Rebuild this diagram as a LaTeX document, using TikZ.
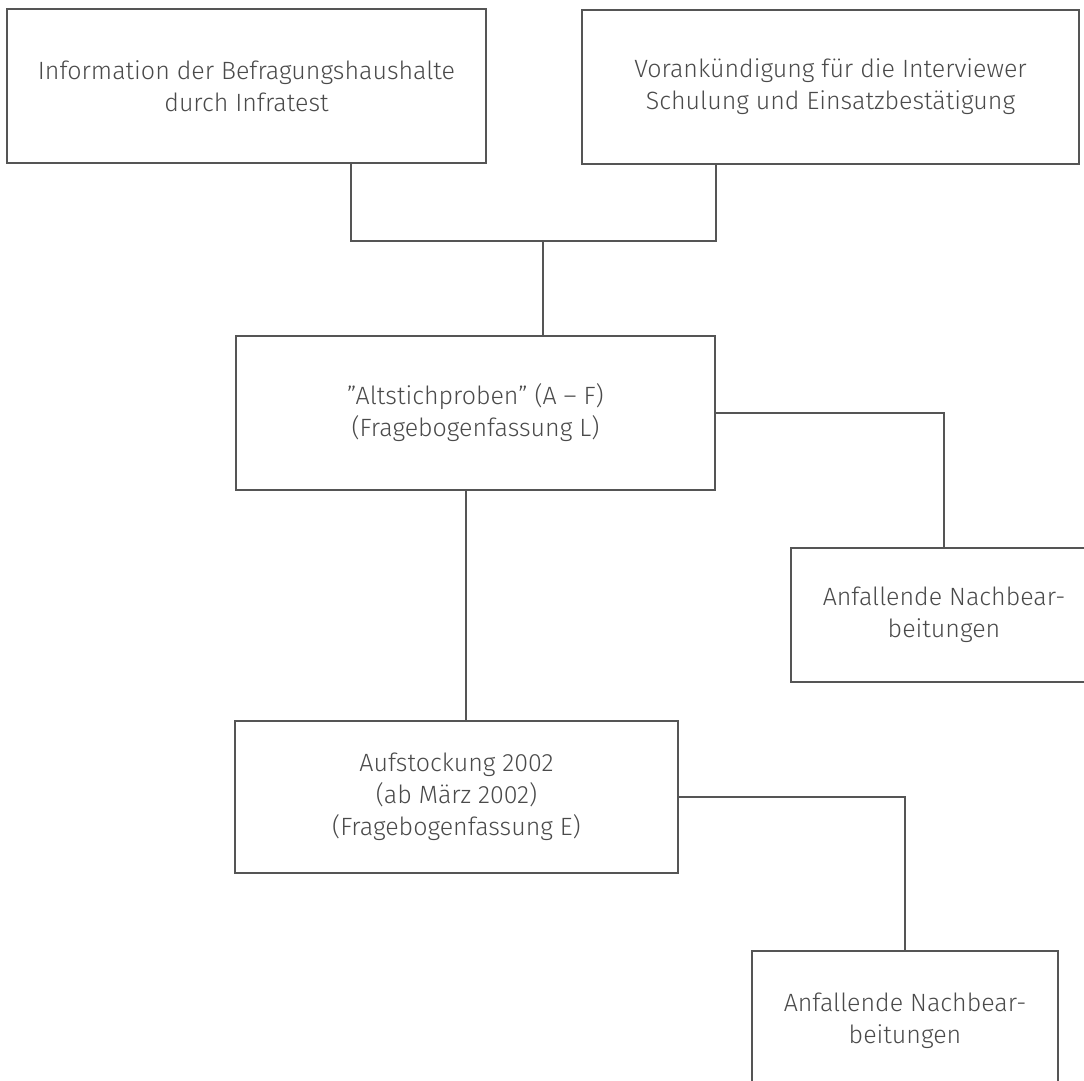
\documentclass[tikz,border=0pt]{standalone}
\usepackage{fontspec}
\setmainfont{Fira Sans Light}
\usepackage{tikz}

\definecolor{linegray}{HTML}{555555}
\definecolor{textgray}{HTML}{4A4A4A}

\tikzset{
	stepbox/.style={draw=linegray, line width=1.6pt, rectangle, align=center,
		text=textgray, font=\fontsize{25}{32}\selectfont, inner sep=0pt},
	link/.style={draw=linegray, line width=1.6pt}
}

\begin{document}
\begin{tikzpicture}[x=1pt, y=-1pt]
	\useasboundingbox (0,0) rectangle (1084,1081);
	% boxes
	\node[stepbox, minimum width=479pt, minimum height=154pt] (info) at (246.5,86) {Information der Befragungshaushalte\\durch Infratest};
	\node[stepbox, minimum width=497pt, minimum height=154pt] (ankuend) at (830.5,87) {Vorankündigung für die Interviewer\\Schulung und Einsatzbestätigung};
	\node[stepbox, minimum width=479pt, minimum height=154pt] (alt) at (475.5,413) {\symbol{34}Altstichproben\symbol{34} (A -- F)\\(Fragebogenfassung L)};
	\node[stepbox, minimum width=306pt, minimum height=134pt] (nachA) at (944,615) {Anfallende Nachbear-\\beitungen};
	\node[stepbox, minimum width=443pt, minimum height=152pt] (auf) at (456.5,797) {Aufstockung 2002\\(ab März 2002)\\(Fragebogenfassung E)};
	\node[stepbox, minimum width=306pt, minimum height=140pt] (nachB) at (905,1021) {Anfallende Nachbear-\\beitungen};
	% joins
	\coordinate (jl) at (351,241);
	\coordinate (jr) at (716,241);
	\coordinate (jm) at (543,241);
	\coordinate (jd) at (466,600);
	% lines
	\draw[link] (info.south -| jl) -- (jl) -- (jr) -- (ankuend.south -| jr);
	\draw[link] (jm) -- (alt.north -| jm);
	\draw[link] (alt.east) -| (nachA.north);
	\draw[link] (alt.south -| jd) -- (auf.north -| jd);
	\draw[link] (auf.east) -| (nachB.north);
\end{tikzpicture}
\end{document}
